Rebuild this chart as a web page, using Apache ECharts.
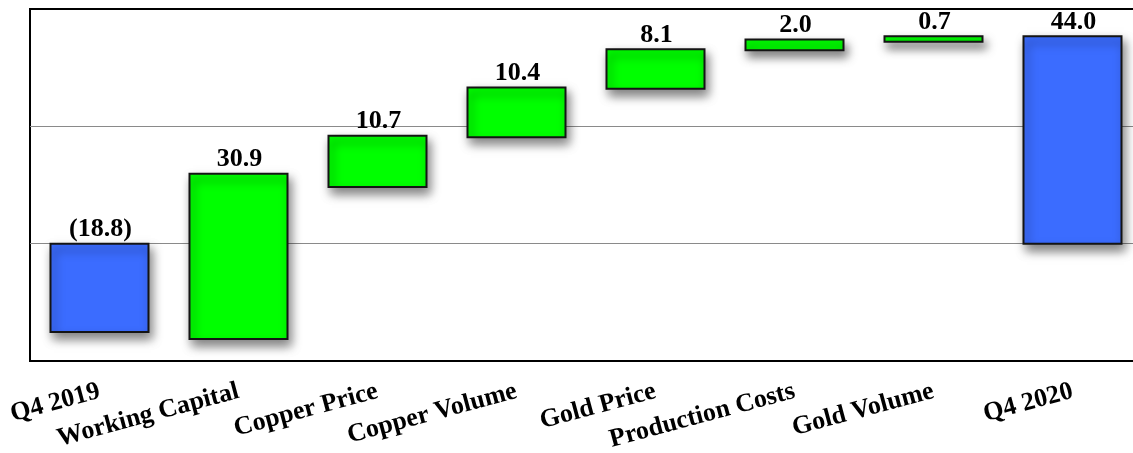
<!DOCTYPE html>
<html>
<head>
<meta charset="utf-8">
<script src="https://cdn.jsdelivr.net/npm/echarts@6/dist/echarts.min.js"></script>
<style>
html,body{margin:0;padding:0;background:#fff;}
#chart{width:1133px;height:453px;}
</style>
</head>
<body>
<div id="chart"></div>
<script>
// Data
const categories = ['Q4 2019','Working Capital','Copper Price','Copper Volume','Gold Price','Production Costs','Gold Volume','Q4 2020'];
const barLow  = [-18.8, -20.3, 12.1, 22.7, 33.0, 41.2, 43.0, 0];
const barHigh = [0, 14.9, 23.0, 33.3, 41.4, 43.5, 44.2, 44.2];
const valueLabels = ['(18.8)','30.9','10.7','10.4','8.1','2.0','0.7','44.0'];
const barKind = ['total','change','change','change','change','change','change','total'];
const yTicks = [-25, 0, 25, 50];

const colors = { total: '#3b6cff', change: '#00ff00' };
const FONT = '"Liberation Serif","Times New Roman",serif';

const seriesData = categories.map((c, i) => [i, barLow[i], barHigh[i]]);

const chart = echarts.init(document.getElementById('chart'), null, { renderer: 'canvas' });
chart.setOption({
  animation: false,
  backgroundColor: '#ffffff',
  grid: {
    left: 30, top: 9, width: 1112, height: 352,
    containLabel: false, outerBoundsMode: 'none',
    show: true, borderColor: '#000', borderWidth: 2, backgroundColor: 'transparent'
  },
  xAxis: {
    type: 'category',
    data: categories,
    axisLine: { show: false },
    axisTick: { show: false },
    axisLabel: {
      interval: 0, rotate: 15, margin: 30,
      fontFamily: FONT, fontWeight: 'bold', fontSize: 26, color: '#000'
    }
  },
  yAxis: {
    type: 'value',
    min: yTicks[0], max: yTicks[yTicks.length - 1], interval: 25,
    axisLabel: { show: false },
    axisLine: { show: false },
    axisTick: { show: false },
    splitLine: { show: true, showMinLine: false, showMaxLine: false, lineStyle: { color: '#8a8a8a', width: 1 } }
  },
  series: [{
    type: 'custom',
    data: seriesData,
    encode: { x: 0, y: [1, 2] },
    renderItem: function (params, api) {
      const i = api.value(0);
      const lo = api.value(1), hi = api.value(2);
      const pTop = api.coord([i, hi]);
      const pBot = api.coord([i, lo]);
      const bw = api.size([1, 0])[0] * 0.705;
      const idx = params.dataIndex;
      return {
        type: 'group',
        children: [{
          type: 'rect',
          shape: { x: pTop[0] - bw / 2, y: pTop[1], width: bw, height: pBot[1] - pTop[1] },
          style: {
            fill: colors[barKind[idx]],
            stroke: '#141414', lineWidth: 2,
            shadowColor: 'rgba(0,0,0,0.5)', shadowBlur: 10, shadowOffsetX: 3, shadowOffsetY: 6
          }
        }, {
          type: 'text',
          style: {
            x: pTop[0] + 1, y: pTop[1] - 1,
            text: valueLabels[idx],
            align: 'center', verticalAlign: 'bottom',
            font: 'bold 26px ' + FONT,
            fill: '#000'
          }
        }]
      };
    }
  }]
});
</script>
</body>
</html>
